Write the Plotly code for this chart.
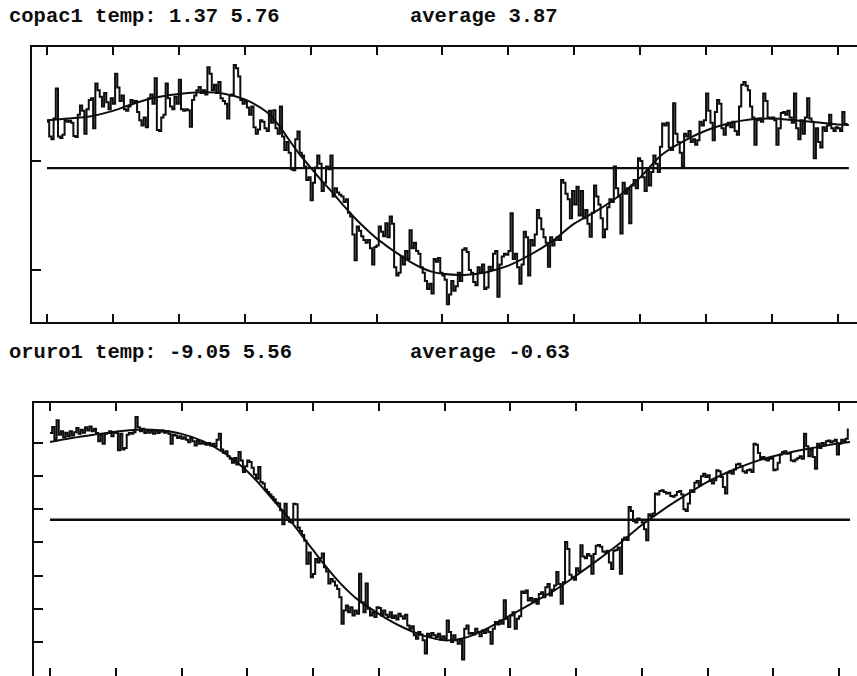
import plotly.graph_objects as go

# ---- daily temperature series (day of year 0..364) ----
days = list(range(365))

copac_raw = [
    4.72, 4.45, 4.40, 4.78, 5.33, 4.45, 4.42, 4.48, 4.75, 4.72,
    4.74, 4.70, 4.46, 4.44, 4.85, 5.02, 4.92, 4.50, 4.95, 5.12,
    5.15, 4.60, 5.42, 5.30, 5.18, 5.00, 5.25, 5.08, 4.95, 5.15,
    5.05, 5.60, 5.35, 5.10, 5.20, 4.95, 4.92, 5.00, 5.12, 5.08,
    5.10, 4.90, 4.75, 4.65, 4.80, 4.62, 5.15, 5.22, 5.05, 5.52,
    4.57, 4.55, 4.80, 4.85, 5.42, 5.15, 5.00, 4.95, 5.18, 5.05,
    5.49, 4.95, 4.92, 4.95, 4.93, 4.63, 5.12, 5.20, 5.30, 5.36,
    5.25, 5.30, 5.22, 5.72, 5.60, 5.30, 5.40, 5.25, 5.45, 5.15,
    5.10, 5.05, 4.78, 5.20, 5.22, 5.76, 5.70, 5.55, 5.12, 5.05,
    5.10, 4.98, 4.85, 5.00, 4.62, 4.50, 4.58, 4.75, 4.72, 4.60,
    4.55, 4.92, 4.70, 4.93, 4.60, 4.50, 5.00, 4.45, 4.20, 4.35,
    4.15, 3.85, 3.83, 4.40, 4.54, 4.15, 4.10, 3.90, 3.65, 3.70,
    3.28, 3.60, 3.88, 4.10, 3.95, 3.45, 3.60, 3.90, 3.85, 4.10,
    3.35, 3.50, 3.42, 3.38, 3.35, 3.25, 3.30, 3.05, 2.98, 2.65,
    2.18, 2.80, 2.72, 2.62, 2.55, 2.50, 2.55, 2.40, 2.10, 2.42,
    2.45, 2.80, 2.70, 2.62, 2.86, 2.60, 2.98, 2.85, 2.05, 1.90,
    1.95, 2.25, 2.10, 2.35, 2.20, 2.73, 2.40, 2.50, 2.35, 2.30,
    2.05, 1.95, 1.80, 1.65, 1.75, 1.57, 2.20, 2.15, 2.22, 1.95,
    1.90, 1.82, 1.37, 1.55, 1.80, 1.62, 1.70, 1.95, 1.80, 2.37,
    2.40, 2.33, 2.00, 1.95, 1.78, 1.72, 2.05, 1.95, 2.10, 1.65,
    1.68, 2.06, 2.00, 2.30, 2.35, 1.51, 2.10, 2.25, 2.30, 2.28,
    2.35, 3.04, 2.20, 2.30, 2.05, 1.75, 2.10, 2.70, 2.60, 1.90,
    2.55, 2.45, 2.65, 3.10, 2.95, 2.75, 2.60, 2.50, 2.06, 2.60,
    2.45, 2.55, 2.60, 2.55, 3.65, 3.60, 3.40, 3.30, 2.95, 3.45,
    3.20, 3.53, 3.00, 3.45, 2.95, 3.10, 2.85, 2.61, 3.05, 3.55,
    3.35, 3.20, 2.95, 2.60, 2.75, 3.15, 3.30, 3.25, 3.90, 3.50,
    3.35, 2.67, 3.60, 3.40, 3.50, 2.86, 3.55, 3.65, 3.50, 4.05,
    4.00, 3.70, 3.45, 3.85, 3.55, 3.80, 4.10, 3.95, 3.80, 4.26,
    4.69, 4.65, 4.70, 4.25, 4.20, 5.06, 4.50, 4.35, 4.15, 3.90,
    4.50, 4.45, 4.55, 4.35, 4.40, 4.30, 4.38, 4.72, 4.65, 4.75,
    5.24, 4.92, 4.70, 4.38, 4.90, 5.12, 5.05, 4.60, 4.48, 4.65,
    4.70, 4.62, 4.72, 4.55, 4.48, 5.00, 5.40, 5.45, 5.38, 5.30,
    5.00, 4.80, 4.30, 4.75, 4.78, 4.72, 5.24, 5.10, 4.80, 4.78,
    4.80, 4.75, 4.30, 4.60, 4.88, 4.90, 4.85, 4.92, 4.80, 4.70,
    5.24, 4.60, 4.40, 4.75, 4.50, 4.80, 5.15, 4.78, 4.72, 4.05,
    4.60, 4.35, 4.25, 4.62, 4.55, 4.65, 4.85, 4.60, 4.55, 4.62,
    4.60, 4.55, 4.90, 4.68, 4.65,
]

oruro_raw = [
    4.60, 4.96, 4.20, 5.37, 4.50, 4.70, 4.35, 4.62, 4.40, 4.70,
    4.45, 4.65, 4.90, 4.55, 4.80, 4.62, 4.95, 4.75, 5.00, 4.70,
    4.85, 4.60, 4.10, 4.50, 3.95, 4.55, 4.60, 4.70, 4.40, 4.65,
    4.60, 3.56, 4.55, 3.60, 3.70, 4.50, 4.60, 4.55, 4.65, 5.56,
    4.95, 4.70, 4.85, 4.60, 4.75, 4.62, 4.70, 4.55, 4.72, 4.60,
    4.68, 4.75, 4.62, 4.72, 4.55, 3.96, 4.50, 4.45, 4.30, 4.40,
    4.25, 4.35, 4.20, 4.05, 4.30, 4.10, 3.85, 4.15, 3.95, 4.05,
    3.95, 3.90, 4.00, 3.85, 3.95, 3.80, 4.20, 4.56, 3.60, 3.40,
    3.50, 3.20, 3.05, 2.80, 3.10, 2.70, 3.45, 2.95, 2.25, 2.60,
    2.95, 2.85, 2.50, 2.10, 1.85, 2.55, 1.65, 1.55, 1.20, 1.05,
    0.90, 0.75, 0.60, 0.40, 0.35, -0.05, -0.90, 0.34, -0.50, -0.75,
    -0.80, 0.34, 0.30, -1.10, -1.30, -1.55, -1.90, -3.28, -2.60, -4.10,
    -3.90, -3.00, -3.20, -2.95, -2.67, -3.50, -3.75, -4.48, -4.20, -4.35,
    -4.60, -4.80, -5.30, -6.90, -6.10, -5.80, -6.20, -5.90, -6.40, -6.10,
    -6.30, -3.88, -5.60, -6.20, -4.48, -6.00, -6.40, -6.20, -6.50, -5.90,
    -5.95, -6.40, -6.10, -6.35, -6.50, -6.20, -6.55, -6.40, -6.65, -6.30,
    -6.45, -6.60, -6.35, -7.00, -7.20, -7.05, -7.60, -7.80, -7.40, -7.55,
    -7.90, -8.70, -7.50, -7.65, -7.45, -7.60, -7.70, -7.50, -7.85, -7.65,
    -7.80, -6.70, -7.40, -8.00, -7.60, -7.90, -8.10, -7.85, -9.05, -7.20,
    -7.00, -7.50, -7.45, -7.55, -7.20, -7.40, -7.65, -7.30, -7.45, -7.25,
    -7.40, -8.10, -7.20, -6.80, -6.95, -6.70, -6.90, -5.49, -6.60, -7.10,
    -6.40, -6.20, -7.20, -6.60, -6.45, -4.95, -5.05, -4.90, -5.50, -5.35,
    -5.60, -5.40, -5.70, -5.10, -5.00, -5.30, -4.70, -4.50, -5.20, -4.85,
    -4.60, -3.78, -4.50, -5.69, -4.40, -1.97, -2.40, -3.95, -4.10, -4.25,
    -3.55, -3.75, -2.17, -2.85, -2.95, -2.70, -2.80, -3.88, -2.70, -2.20,
    -2.15, -2.25, -2.55, -2.60, -2.50, -3.20, -3.60, -2.50, -2.45, -2.30,
    -3.88, -1.80, -1.70, -1.85, 0.14, -0.10, -0.70, -0.80, -0.55, -0.65,
    -0.80, -1.20, -1.87, -0.30, -0.40, -0.25, 0.95, 0.90, 1.10, 1.15,
    1.05, 0.95, 1.00, 0.80, 0.75, 0.85, 1.05, 1.10, 0.90, 0.00,
    -0.10, 0.35, 1.15, 1.05, 1.60, 1.70, 1.45, 2.00, 2.15, 1.95,
    2.05, 1.70, 1.55, 1.75, 2.35, 2.30, 1.95, 1.35, 0.95, 2.20,
    2.30, 2.15, 2.40, 2.70, 2.75, 2.60, 2.30, 2.20, 2.35, 2.40,
    2.25, 3.96, 3.90, 3.40, 3.10, 3.16, 3.00, 2.95, 3.05, 3.10,
    2.35, 2.40, 2.80, 3.30, 3.45, 3.50, 3.35, 3.40, 2.95, 2.90,
    3.00, 3.10, 3.20, 3.05, 4.56, 3.80, 3.20, 3.60, 3.15, 2.45,
    3.95, 3.70, 4.00, 3.85, 4.10, 4.15, 4.05, 4.10, 4.20, 3.30,
    3.95, 4.20, 4.10, 4.25, 4.87,
]

# ---- smoothed annual cycle ----
copac_smooth_days = [0, 10, 20, 30, 40, 50, 60, 70, 80, 90, 100, 105, 110, 115,
                     120, 125, 130, 135, 140, 145, 150, 155, 160, 165, 170, 175,
                     180, 190, 200, 210, 220, 230, 240, 250, 260, 270, 280, 290,
                     300, 310, 320, 330, 340, 350, 360, 365]
copac_smooth = [4.75, 4.78, 4.82, 4.92, 5.06, 5.17, 5.23, 5.26, 5.24, 5.13, 4.90,
                4.68, 4.40, 4.12, 3.88, 3.64, 3.42, 3.18, 2.96, 2.76, 2.58, 2.43,
                2.29, 2.16, 2.05, 1.97, 1.93, 1.91, 1.96, 2.08, 2.28, 2.53, 2.85,
                3.08, 3.35, 3.70, 4.12, 4.37, 4.56, 4.69, 4.76, 4.78, 4.75, 4.71,
                4.67, 4.66]

oruro_smooth_days = [0, 10, 20, 30, 40, 50, 60, 70, 80, 90, 100, 105, 110, 115,
                     120, 125, 130, 135, 140, 150, 160, 170, 180, 190, 200, 210,
                     220, 230, 240, 250, 260, 270, 280, 290, 300, 310, 320, 330,
                     340, 350, 360, 365]
oruro_smooth = [4.06, 4.30, 4.50, 4.68, 4.80, 4.76, 4.55, 4.10, 3.35, 2.30, 0.85,
                0.08, -0.72, -1.60, -2.45, -3.30, -4.10, -4.80, -5.40, -6.30,
                -7.05, -7.60, -7.90, -7.72, -7.15, -6.40, -5.65, -4.90, -4.00,
                -3.05, -2.05, -0.95, 0.00, 0.85, 1.65, 2.28, 2.80, 3.20, 3.50,
                3.75, 3.98, 4.06]

copac_average = 3.87
oruro_average = -0.63

month_ticks = [0, 30, 60, 90, 120, 150, 180, 210, 240, 270, 300, 330, 360]
copac_yticks = [2, 4]
oruro_yticks = [-8, -6, -4, -2, 0, 2, 4]

INK = "#0d0d0d"
W, H = 857, 676

fig = go.Figure()


def add_panel(raw, sd, sv, avg, xa, ya):
    fig.add_trace(go.Scatter(x=days, y=raw, mode="lines", line_shape="hv",
                             line=dict(color=INK, width=2.0),
                             xaxis=xa, yaxis=ya, hoverinfo="skip"))
    fig.add_trace(go.Scatter(x=sd, y=sv, mode="lines", line_shape="spline",
                             line=dict(color=INK, width=2.0),
                             xaxis=xa, yaxis=ya, hoverinfo="skip"))
    fig.add_trace(go.Scatter(x=[days[0], days[-1] + 1], y=[avg, avg],
                             mode="lines", line=dict(color=INK, width=2.4),
                             xaxis=xa, yaxis=ya, hoverinfo="skip"))


add_panel(copac_raw, copac_smooth_days, copac_smooth, copac_average, "x", "y")
add_panel(oruro_raw, oruro_smooth_days, oruro_smooth, oruro_average, "x2", "y2")


def xaxis_style(domain, rng, anchor):
    return dict(domain=domain, range=rng, anchor=anchor,
                tickvals=month_ticks, ticks="inside", ticklen=8, tickwidth=2,
                tickcolor=INK, showticklabels=False, showgrid=False,
                zeroline=False, showline=True, linecolor=INK, linewidth=2.4,
                mirror="ticks")


def yaxis_style(domain, rng, anchor, tickvals):
    return dict(domain=domain, range=rng, anchor=anchor,
                tickvals=tickvals, ticks="inside", ticklen=9, tickwidth=2,
                tickcolor=INK, showticklabels=False, showgrid=False,
                zeroline=False, showline=True, linecolor=INK, linewidth=2.4)


def right_ticks(overlay, rng, anchor, tickvals):
    return dict(overlaying=overlay, side="right", range=rng, anchor=anchor,
                tickvals=tickvals, ticks="inside", ticklen=3, tickwidth=2,
                tickcolor=INK, showticklabels=False, showgrid=False,
                zeroline=False, showline=False)


top_y = [1.046, 6.092]
bot_y = [-10.05, 6.41]

fig.update_layout(
    width=W, height=H,
    margin=dict(l=0, r=0, t=0, b=0),
    paper_bgcolor="white", plot_bgcolor="white",
    showlegend=False,
    xaxis=xaxis_style([32 / W, 1.0], [-6.83, 368.7], "y"),
    yaxis=yaxis_style([1 - 322 / H, 1 - 47 / H], top_y, "x", copac_yticks),
    xaxis2=xaxis_style([34 / W, 1.0], [-7.30, 368.2], "y2"),
    yaxis2=yaxis_style([0.0, 1 - 403 / H], bot_y, "x2", oruro_yticks),
    yaxis3=right_ticks("y", top_y, "x", copac_yticks),
    yaxis4=right_ticks("y2", bot_y, "x2", oruro_yticks),
)

title_font = dict(family="Liberation Mono", size=20.5, color=INK, weight="bold")


def label(text, px, py):
    fig.add_annotation(text=text, x=px / W, y=1 - py / H, xref="paper",
                       yref="paper", xanchor="left", yanchor="middle",
                       showarrow=False, font=title_font)


label(f"copac1 temp: {min(copac_raw):.2f} {max(copac_raw):.2f}", 7, 17)
label(f"average {copac_average:.2f}", 408, 17)
label(f"oruro1 temp: {min(oruro_raw):.2f} {max(oruro_raw):.2f}", 7, 353)
label(f"average {oruro_average:.2f}", 408, 353)

fig.write_html("out.html")
